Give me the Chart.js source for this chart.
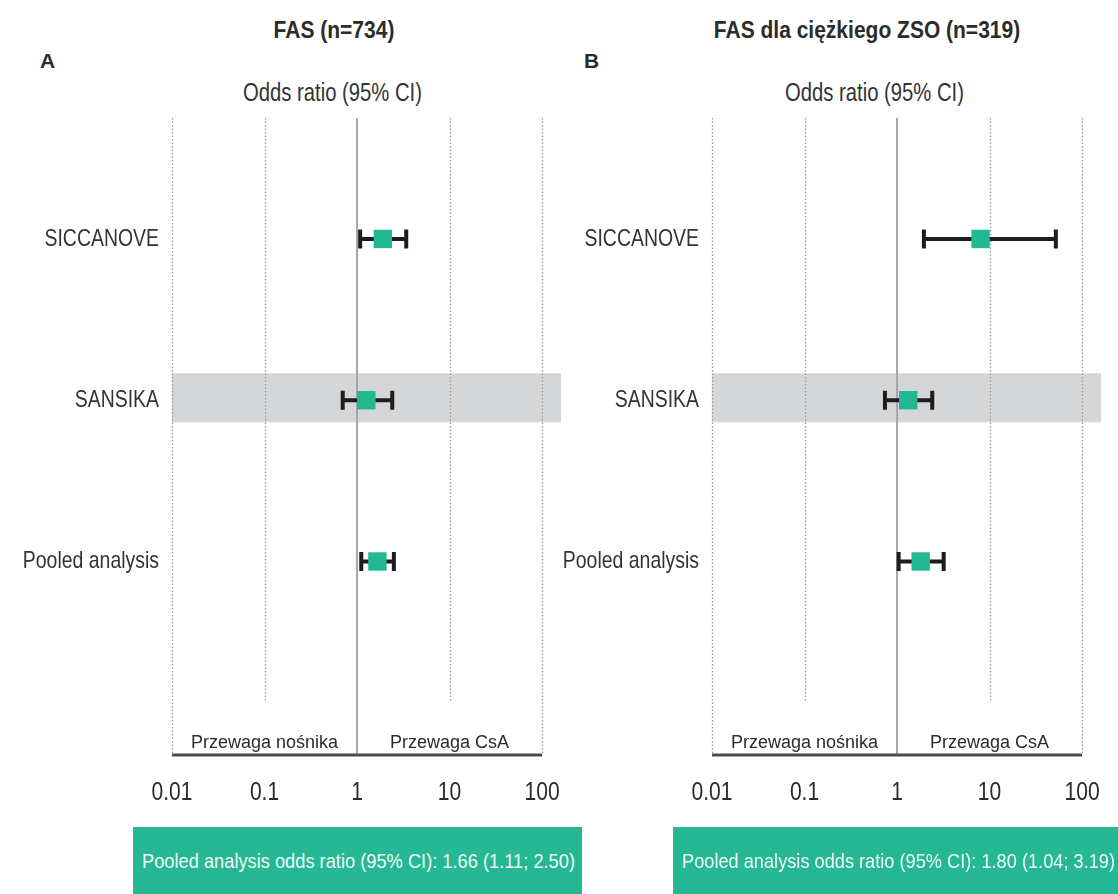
<!DOCTYPE html>
<html>
<head>
<meta charset="utf-8">
<script src="https://cdn.jsdelivr.net/npm/chart.js@4/dist/chart.umd.min.js"></script>
<style>
  html, body { margin: 0; padding: 0; background: #fff; }
  body { width: 1118px; height: 894px; position: relative; overflow: hidden;
         font-family: "Liberation Sans", Arial, sans-serif; color: #333; }
  .title { position: absolute; top: 18px; font: bold 21px "Liberation Sans", Arial, sans-serif; color: #2b2b2b;
           transform: translateX(-50%) scaleY(1.1); white-space: nowrap; }
  .letter { position: absolute; top: 49px; font: bold 21px "Liberation Sans", Arial, sans-serif; color: #2b2b2b; }
  .axisname { position: absolute; top: 77px; font-size: 26px; color: #333; white-space: nowrap;
              transform-origin: 0 0; }
  .panel { position: absolute; top: 0; width: 574px; height: 830px; }
  .pooled { position: absolute; top: 827px; height: 70px; background: #26b894; overflow: hidden; }
  .pooled span { position: absolute; left: 9px; top: 22px; color: #eef8f4; font-size: 21px; white-space: nowrap;
                 transform-origin: 0 0; }
</style>
</head>
<body>
<div class="title" style="left:334px">FAS (n=734)</div>
<div class="title" style="left:867px">FAS dla ciężkiego ZSO (n=319)</div>
<div class="letter" style="left:40px">A</div>
<div class="letter" style="left:584px">B</div>
<div class="axisname" data-w="179" style="left:243px">Odds ratio (95% CI)</div>
<div class="axisname" data-w="179" style="left:785px">Odds ratio (95% CI)</div>

<div class="panel" style="left:0px"><canvas id="chartA" width="574" height="830"></canvas></div>
<div class="panel" style="left:540px"><canvas id="chartB" width="574" height="830"></canvas></div>

<div class="pooled" style="left:133px; width:449px"><span id="pooledA" data-w="433"></span></div>
<div class="pooled" style="left:673px; width:445px"><span id="pooledB" data-w="433"></span></div>

<script>
// Studies shown in each forest plot (top to bottom)
const studies = ['SICCANOVE', 'SANSIKA', 'Pooled analysis'];

// Panel A — FAS (n=734): odds ratios with 95% CI
const orA    = [1.90, 1.26, 1.66];
const lowerA = [1.08, 0.70, 1.11];
const upperA = [3.40, 2.40, 2.50];

// Panel B — FAS dla ciężkiego ZSO (n=319): odds ratios with 95% CI
const orB    = [8.0, 1.32, 1.80];
const lowerB = [1.95, 0.74, 1.04];
const upperB = [52.0, 2.40, 3.19];

// Logarithmic x axis ticks
const tickValues = [0.01, 0.1, 1, 10, 100];
const tickLabels = ['0.01', '0.1', '1', '10', '100'];

// Favouring labels under the plot
const favourLeft = 'Przewaga nośnika';
const favourRight = 'Przewaga CsA';

const MARK = '#22b893';
const INK = '#1d1d1d';
const SANS = '"Liberation Sans", Arial, sans-serif';
const NARROW_X = 0.81;   // horizontal squeeze giving the condensed label face

function fmt(v) { return v.toFixed(2); }
document.getElementById('pooledA').textContent =
  'Pooled analysis odds ratio (95% CI): ' + fmt(orA[2]) + ' (' + fmt(lowerA[2]) + '; ' + fmt(upperA[2]) + ')';
document.getElementById('pooledB').textContent =
  'Pooled analysis odds ratio (95% CI): ' + fmt(orB[2]) + ' (' + fmt(lowerB[2]) + '; ' + fmt(upperB[2]) + ')';

// condense HTML captions to their set widths
document.querySelectorAll('[data-w]').forEach(el => {
  const w = el.getBoundingClientRect().width;
  el.style.transform = 'scaleX(' + (Number(el.dataset.w) / w) + ')';
});

function narrowText(ctx, text, x, y, align, size, color) {
  ctx.save();
  ctx.translate(x, y);
  ctx.scale(NARROW_X, 1);
  ctx.font = size + 'px ' + SANS;
  ctx.fillStyle = color;
  ctx.textAlign = align;
  ctx.textBaseline = 'middle';
  ctx.fillText(text, 0, 0);
  ctx.restore();
}

// Draws the shaded row, the decade guides, the line of no effect,
// the confidence intervals, the bottom axis with its favouring labels
// and the condensed tick labels of both scales.
const forestPlugin = {
  id: 'forest',
  beforeDatasetsDraw(chart, args, opts) {
    const { ctx, chartArea: a, scales: { x, y } } = chart;
    ctx.save();
    // shaded row
    opts.shaded.forEach(i => {
      const yc = y.getPixelForValue(i + 0.985);
      const h = 24.5;
      ctx.fillStyle = '#d5d6d8';
      ctx.fillRect(a.left, yc - h, a.right - a.left, 2 * h);
    });
    // decade guides
    ctx.strokeStyle = '#9a9a9a';
    ctx.lineWidth = 1.3;
    ctx.setLineDash([1.5, 2]);
    tickValues.forEach(v => {
      if (v === 1) return;
      const px = Math.round(x.getPixelForValue(v)) + 0.5;
      const outer = (v === tickValues[0] || v === tickValues[tickValues.length - 1]);
      ctx.beginPath();
      ctx.moveTo(px, a.top);
      ctx.lineTo(px, outer ? a.bottom : a.bottom - 53);
      ctx.stroke();
    });
    ctx.setLineDash([]);
    // line of no effect
    const p1 = x.getPixelForValue(1);
    ctx.strokeStyle = '#a6a6a6';
    ctx.lineWidth = 2;
    ctx.beginPath();
    ctx.moveTo(p1, a.top);
    ctx.lineTo(p1, a.bottom);
    ctx.stroke();
    // confidence intervals
    ctx.strokeStyle = INK;
    ctx.lineWidth = 4;
    opts.lower.forEach((lo, i) => {
      const yc = y.getPixelForValue(i + 1);
      const xl = x.getPixelForValue(lo);
      const xr = x.getPixelForValue(opts.upper[i]);
      ctx.beginPath();
      ctx.moveTo(xl, yc); ctx.lineTo(xr, yc);
      ctx.moveTo(xl, yc - 9.5); ctx.lineTo(xl, yc + 9.5);
      ctx.moveTo(xr, yc - 9.5); ctx.lineTo(xr, yc + 9.5);
      ctx.stroke();
    });
    // bottom axis line
    const x0 = x.getPixelForValue(tickValues[0]);
    const x1 = x.getPixelForValue(tickValues[tickValues.length - 1]);
    ctx.strokeStyle = '#4a4a4a';
    ctx.lineWidth = 3;
    ctx.beginPath();
    ctx.moveTo(x0, a.bottom); ctx.lineTo(x1, a.bottom);
    ctx.stroke();
    // favouring labels
    ctx.fillStyle = '#2b2b2b';
    ctx.font = '18px ' + SANS;
    ctx.textAlign = 'center';
    ctx.textBaseline = 'alphabetic';
    ctx.fillText(favourLeft, (x0 + p1) / 2, a.bottom - 7);
    ctx.fillText(favourRight, (p1 + x1) / 2, a.bottom - 7);
    ctx.restore();
  },
  afterDraw(chart) {
    const { ctx, chartArea: a, scales: { x, y } } = chart;
    x.ticks.forEach(t => {
      narrowText(ctx, t.label, x.getPixelForValue(t.value), a.bottom + 38, 'center', 26, '#2b2b2b');
    });
    y.ticks.forEach(t => {
      narrowText(ctx, t.label, a.left - 13, y.getPixelForValue(t.value), 'right', 24, '#333');
    });
  }
};

function makeChart(id, or, lower, upper) {
  return new Chart(document.getElementById(id), {
    type: 'scatter',
    data: {
      datasets: [{
        data: or.map((v, i) => ({ x: v, y: i + 1 })),
        pointStyle: 'rect',
        pointRadius: 13,
        pointHoverRadius: 13,
        backgroundColor: MARK,
        borderWidth: 0
      }]
    },
    plugins: [forestPlugin],
    options: {
      responsive: false,
      animation: false,
      events: [],
      layout: { padding: { top: 118, right: 5, bottom: 0, left: 0 } },
      plugins: {
        legend: { display: false },
        tooltip: { enabled: false },
        forest: { lower, upper, shaded: [1] }
      },
      scales: {
        x: {
          type: 'logarithmic',
          min: 0.01,
          max: 160,
          grid: { display: false, drawTicks: false },
          border: { display: false },
          afterBuildTicks: s => { s.ticks = tickValues.map(v => ({ value: v })); },
          afterFit: s => { s.height = 75; s.paddingLeft = 0; s.paddingRight = 0; },
          ticks: {
            display: false,
            autoSkip: false,
            maxRotation: 0,
            callback: (v, i) => tickLabels[i]
          }
        },
        y: {
          type: 'linear',
          reverse: true,
          min: 0.25,
          max: 4.2,
          grid: { display: false, drawTicks: false },
          border: { display: false },
          afterBuildTicks: s => { s.ticks = studies.map((_, i) => ({ value: i + 1 })); },
          afterFit: s => { s.width = 172; s.paddingTop = 0; s.paddingBottom = 0; },
          ticks: {
            display: false,
            callback: v => studies[v - 1]
          }
        }
      }
    }
  });
}

makeChart('chartA', orA, lowerA, upperA);
makeChart('chartB', orB, lowerB, upperB);
</script>
</body>
</html>
